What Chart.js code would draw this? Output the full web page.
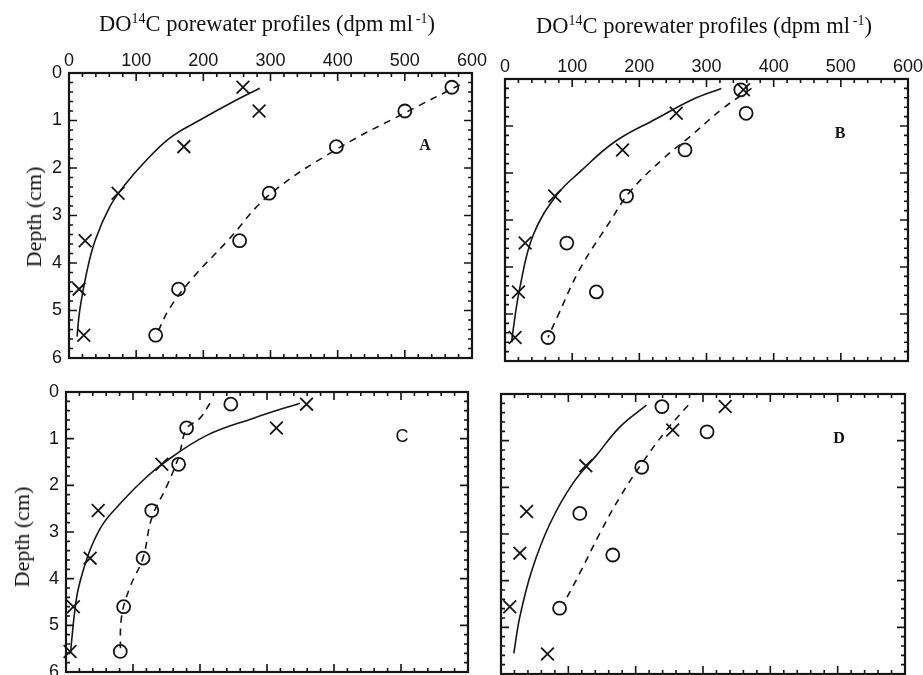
<!DOCTYPE html>
<html>
<head>
<meta charset="utf-8">
<script src="https://cdn.jsdelivr.net/npm/chart.js@4.4.1/dist/chart.umd.min.js"></script>
<style>
  body { margin: 0; background: #fff; }
  #wrap { position: relative; width: 923px; height: 675px; overflow: hidden; background: #fff; }
  canvas { position: absolute; left: 0; top: 0; }
  .txt { position: absolute; font-family: "Liberation Serif", "Times New Roman", serif; color: #111; white-space: nowrap; line-height: 1; }
  .title { font-size: 22.5px; transform: translateX(-50%); }
  .title sup { font-size: 0.62em; vertical-align: baseline; position: relative; top: -0.55em; }
  .depth { font-size: 22px; transform: translate(-50%, -50%) rotate(-90deg); }
  .letter { font-size: 16px; font-weight: bold; transform: translate(-50%, -50%); }
  .sans { font-family: "Liberation Sans", Arial, sans-serif; font-weight: normal; font-size: 18px; }
</style>
</head>
<body>
<div id="wrap">
  <canvas id="chartA" width="980" height="740"></canvas>
  <canvas id="chartB" width="980" height="740"></canvas>
  <canvas id="chartC" width="980" height="740"></canvas>
  <canvas id="chartD" width="980" height="740"></canvas>

  <div class="txt title" style="left:267px; top:13px;">DO<sup>14</sup>C porewater profiles (dpm ml<sup>&thinsp;-1</sup>)</div>
  <div class="txt title" style="left:704px; top:15px;">DO<sup>14</sup>C porewater profiles (dpm ml<sup>&thinsp;-1</sup>)</div>
  <div class="txt depth" style="left:34px; top:217px;">Depth (cm)</div>
  <div class="txt depth" style="left:22px; top:537px;">Depth (cm)</div>
  <div class="txt letter" style="left:425px; top:145px;">A</div>
  <div class="txt letter" style="left:840px; top:133px;">B</div>
  <div class="txt letter sans" style="left:402px; top:436px;">C</div>
  <div class="txt letter" style="left:839px; top:438px;">D</div>
</div>

<script>
// axis ticks
const xTicks = [0, 100, 200, 300, 400, 500, 600];
const yTicks = [0, 1, 2, 3, 4, 5, 6];

// Panel A
const depthA = [0.3, 0.8, 1.55, 2.53, 3.53, 4.55, 5.52];
const crossA = [259, 283, 171, 73, 24, 15, 22];
const circleA = [570, 500, 398, 298, 254, 163, 129];
const solidAx = [284, 245, 195, 150, 111, 83, 61, 39, 26, 16, 12];
const solidAd = [0.32, 0.6, 0.99, 1.37, 1.9, 2.36, 2.81, 3.52, 4.22, 4.99, 5.55];
const dashAx = [582, 500, 398, 298, 235, 185, 150, 130];
const dashAd = [0.25, 0.84, 1.61, 2.57, 3.55, 4.3, 4.95, 5.52];

// Panel B
const depthB = [0.23, 0.73, 1.51, 2.49, 3.49, 4.53, 5.5];
const crossB = [355, 255, 175, 74, 30, 20, 15];
const circleB = [351, 359, 268, 181, 92, 136, 64];
const solidBx = [322, 280, 226, 164, 112, 77, 42, 22, 11, 10];
const solidBd = [0.2, 0.43, 0.84, 1.33, 1.97, 2.47, 3.32, 4.45, 5.45, 5.6];
const dashBx = [367, 325, 275, 236, 186, 156, 112, 77, 64];
const dashBd = [0.2, 0.62, 1.23, 1.69, 2.4, 3.04, 4.03, 5.09, 5.5];

// Panel C
const depthC = [0.26, 0.77, 1.55, 2.54, 3.56, 4.6, 5.56];
const crossC = [359, 314, 143, 48, 36, 11, 6];
const circleC = [246, 180, 168, 128, 115, 86, 81];
const solidCx = [349, 280, 210, 145, 110, 81, 56, 38, 26, 16, 8, 7];
const solidCd = [0.24, 0.56, 0.93, 1.53, 1.96, 2.39, 2.81, 3.31, 3.81, 4.39, 5.39, 5.6];
const dashCx = [215, 200, 180, 168, 150, 128, 115, 95, 83, 81];
const dashCd = [0.24, 0.56, 0.79, 1.4, 2.03, 2.7, 3.55, 4.2, 4.81, 5.59];

// Panel D (no circle at the deepest level)
const depthD = [0.27, 0.77, 1.54, 2.52, 3.41, 4.56, 5.57];
const crossD = [333, 255, 126, 38, 28, 13, 69];
const circleDepthD = [0.27, 0.81, 1.57, 2.56, 3.45, 4.59];
const circleD = [239, 306, 209, 117, 166, 87];
const solidDx = [216, 177, 142, 107, 73, 46, 28, 19];
const solidDd = [0.24, 0.7, 1.31, 1.91, 2.77, 3.77, 4.77, 5.56];
const dashDx = [278, 246, 211, 177, 147, 117, 93];
const dashDd = [0.24, 0.77, 1.45, 2.2, 2.98, 3.84, 4.49];

const INK = '#151515';
const AXIS_BOX = 30;      // fixed room for tick labels
const CANVAS_W = 980;     // canvases run past the page so label overflow never squeezes a panel
const CANVAS_H = 740;

const pts = (xs, ds) => xs.map((v, i) => ({ x: v, y: ds[i] }));

// inward ticks on all four sides + frame
const frameTicks = {
    id: 'frameTicks',
    afterDatasetsDraw(chart) {
        const { ctx, chartArea: a, scales: { x, y } } = chart;
        ctx.save();
        ctx.strokeStyle = INK;
        ctx.lineWidth = 1.6;
        ctx.beginPath();
        for (let v = 0; v <= 600; v += 20) {
            const px = x.getPixelForValue(v);
            const len = v % 100 === 0 ? 8 : 4;
            ctx.moveTo(px, a.top); ctx.lineTo(px, a.top + len);
            ctx.moveTo(px, a.bottom); ctx.lineTo(px, a.bottom - len);
        }
        for (let i = 0; i <= 30; i++) {
            const py = y.getPixelForValue(i / 5);
            const len = i % 5 === 0 ? 8 : 4;
            ctx.moveTo(a.left, py); ctx.lineTo(a.left + len, py);
            ctx.moveTo(a.right, py); ctx.lineTo(a.right - len, py);
        }
        ctx.stroke();
        ctx.lineWidth = 2.2;
        ctx.strokeRect(a.left, a.top, a.width, a.height);
        ctx.restore();
    }
};

function makePanel(id, box, showX, showY, data) {
    const datasets = [{
        data: pts(data.solidX, data.solidD),
        showLine: true, borderColor: INK, borderWidth: 1.6,
        pointRadius: 0, tension: 0.4, fill: false
    }, {
        data: pts(data.dashX, data.dashD),
        showLine: true, borderColor: INK, borderWidth: 1.6, borderDash: [7, 6],
        pointRadius: 0, tension: 0.4, fill: false
    }, {
        data: pts(data.cross, data.depth),
        pointStyle: 'crossRot', pointRadius: 9, borderColor: INK, borderWidth: 1.8,
        clip: false
    }, {
        data: pts(data.circle, data.circleDepth || data.depth),
        pointStyle: 'circle', pointRadius: 6.5, borderColor: INK, borderWidth: 1.8,
        backgroundColor: 'rgba(0,0,0,0)', clip: false
    }];

    new Chart(document.getElementById(id), {
        type: 'scatter',
        data: { datasets },
        options: {
            responsive: false,
            animation: false,
            devicePixelRatio: 1,
            layout: {
                padding: {
                    left: box.left - AXIS_BOX,
                    top: box.top - AXIS_BOX,
                    right: CANVAS_W - box.right,
                    bottom: CANVAS_H - box.bottom
                }
            },
            plugins: { legend: { display: false }, tooltip: { enabled: false } },
            scales: {
                x: {
                    type: 'linear', position: 'top', min: 0, max: 600,
                    afterBuildTicks: s => { s.ticks = xTicks.map(v => ({ value: v })); },
                    afterFit: s => { s.height = AXIS_BOX; },
                    grid: { display: false, drawTicks: false },
                    border: { display: false },
                    ticks: {
                        display: showX, padding: 1, color: INK,
                        font: { family: "'Liberation Sans', Arial, sans-serif", size: 18 },
                        maxRotation: 0, autoSkip: false
                    }
                },
                y: {
                    type: 'linear', reverse: true, min: 0, max: 6,
                    afterBuildTicks: s => { s.ticks = yTicks.map(v => ({ value: v })); },
                    afterFit: s => { s.width = AXIS_BOX; },
                    grid: { display: false, drawTicks: false },
                    border: { display: false },
                    ticks: {
                        display: showY, padding: 7, color: INK,
                        font: { family: "'Liberation Sans', Arial, sans-serif", size: 18 },
                        autoSkip: false
                    }
                }
            }
        },
        plugins: [frameTicks]
    });
}

makePanel('chartA', { left: 69, top: 73, right: 472, bottom: 358 }, true, true, {
    depth: depthA, cross: crossA, circle: circleA,
    solidX: solidAx, solidD: solidAd, dashX: dashAx, dashD: dashAd
});
makePanel('chartB', { left: 505, top: 79, right: 908, bottom: 361 }, true, false, {
    depth: depthB, cross: crossB, circle: circleB,
    solidX: solidBx, solidD: solidBd, dashX: dashBx, dashD: dashBd
});
makePanel('chartC', { left: 66, top: 392, right: 468, bottom: 672 }, false, true, {
    depth: depthC, cross: crossC, circle: circleC,
    solidX: solidCx, solidD: solidCd, dashX: dashCx, dashD: dashCd
});
makePanel('chartD', { left: 501, top: 394, right: 905, bottom: 674 }, false, false, {
    depth: depthD, cross: crossD, circle: circleD, circleDepth: circleDepthD,
    solidX: solidDx, solidD: solidDd, dashX: dashDx, dashD: dashDd
});
</script>
</body>
</html>
